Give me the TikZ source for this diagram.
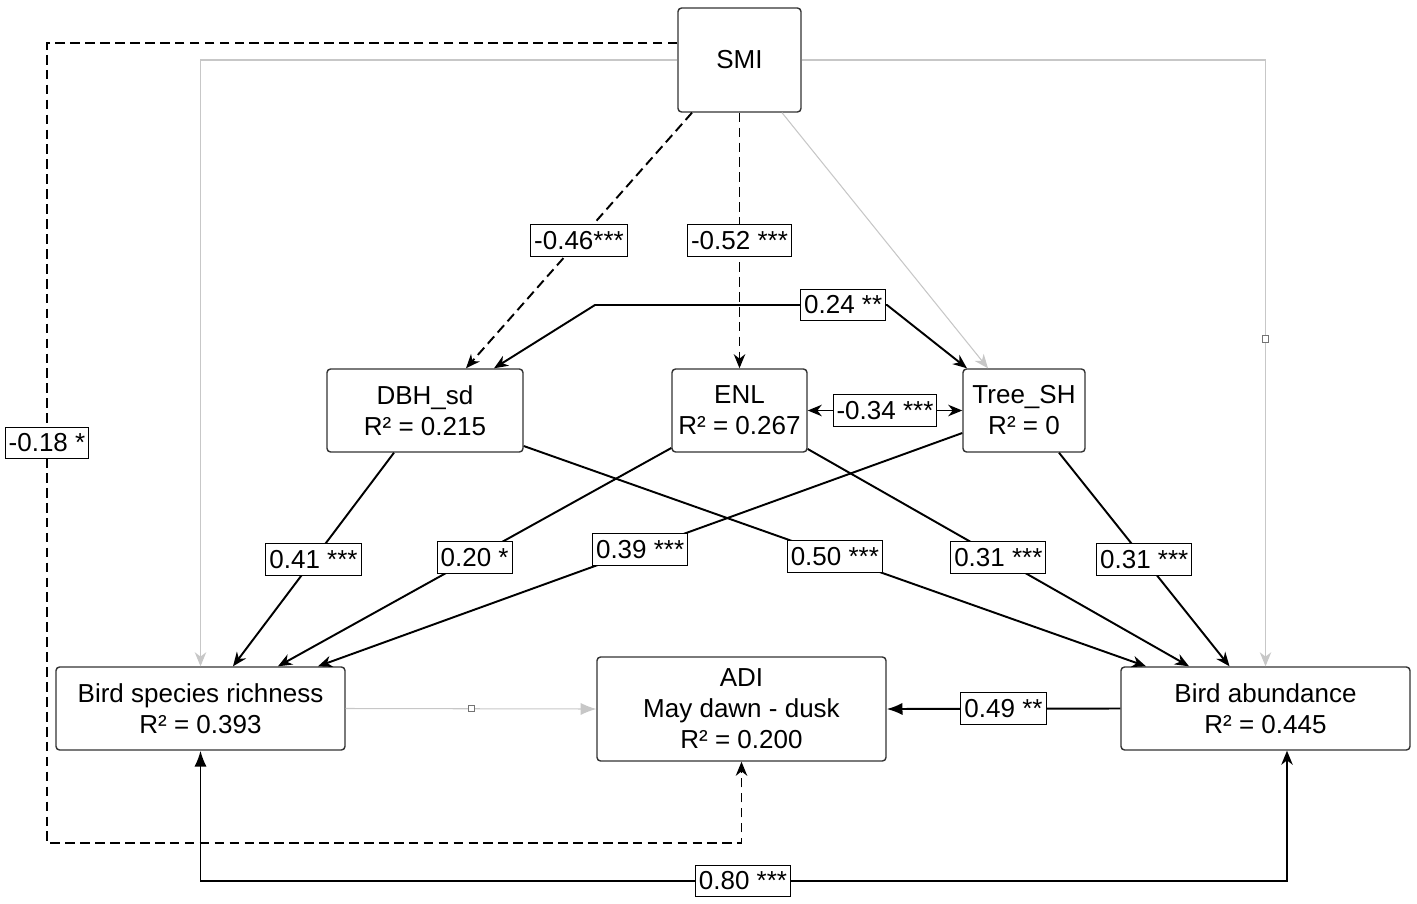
\documentclass[tikz,border=0pt]{standalone}
\usepackage{fontspec}
\setmainfont{Liberation Sans}
\usetikzlibrary{arrows.meta}

\begin{document}
\begin{tikzpicture}[x=0.02cm,y=-0.02cm,line width=1.1pt,
  >={Stealth[length=8pt,width=6.5pt,inset=2.5pt]},
  var/.style={draw=black!80,line width=0.8pt,rounded corners=2pt,align=center,
    font=\fontsize{14.8}{17.6}\selectfont,minimum height=1.66cm},
  coef/.style={draw,solid,fill=white,line width=0.6pt,inner xsep=2pt,inner ysep=3.8pt,
    font=\fontsize{14.8}{17.6}\selectfont},
  weak/.style={draw=black!22,line width=0.6pt},
  neg/.style={dash pattern=on 5.5pt off 3pt},
  handle/.style={draw=black!55,solid,fill=white,line width=0.4pt,minimum size=3.5pt,inner sep=0pt}]
  \useasboundingbox (0,0) rectangle (1417,903);

  \node[var,minimum width=2.46cm,minimum height=2.08cm] (SMI) at (739.5,60) {SMI};
  \node[var,minimum width=3.92cm] (DBH) at (425,410.5) {DBH\_sd\\R² = 0.215};
  \node[var,minimum width=2.7cm] (ENL) at (739.5,410.5) {ENL\\R² = 0.267};
  \node[var,minimum width=2.44cm] (TSH) at (1024,410.5) {Tree\_SH\\R² = 0};
  \node[var,minimum width=5.78cm] (BSR) at (200.5,708.5) {Bird species richness\\R² = 0.393};
  \node[var,minimum width=5.78cm,minimum height=2.08cm] (ADI) at (741.5,709) {ADI\\May dawn - dusk\\R² = 0.200};
  \node[var,minimum width=5.78cm] (ABU) at (1265.5,708.5) {Bird abundance\\R² = 0.445};

  \coordinate (dtl) at (47,43);
  \coordinate (dbl) at (47,843);
  \coordinate (c80) at (743,881);

  % SMI paths
  \draw[weak,->] (SMI.west) -| (BSR.north);
  \draw[weak,->] (SMI.east) -| node[handle,pos=.73] (h1) {} (ABU.north);
  \draw[weak,->] ([xshift=0.85cm]SMI.south) -- ([xshift=-0.72cm]TSH.north);
  \draw[neg,->] ([xshift=-0.95cm]SMI.south) -- node[coef] {-0.46***} ([xshift=0.82cm]DBH.north);
  \draw[neg,->] (SMI.south) -- node[coef] {-0.52 ***} (ENL.north);
  \draw[neg,->] (SMI.west |- dtl) -- (dtl) -- node[coef] {-0.18 *} (dbl) -| (ADI.south);

  % covariances
  \draw[<->] ([xshift=1.38cm]DBH.north) -- (595,305) -- node[coef,pos=.85] {0.24 **} (887,305)
    -- ([xshift=-1.14cm]TSH.north);
  \draw[<->] (ENL.east) -- node[coef] {-0.34 ***} (TSH.west);
  \draw[{Latex[length=9pt,width=7pt]}->] (BSR.south) |- (c80) node[coef] {0.80 ***}
    -| ([xshift=0.43cm]ABU.south);

  % forest structure to birds
  \path[->]
  ([xshift=-0.62cm]DBH.south) edge node[coef] {0.41 ***} ([xshift=0.65cm]BSR.north)
  ([yshift=-0.75cm]ENL.west) edge node[coef] {0.20 *} ([xshift=1.55cm]BSR.north)
  ([yshift=-0.45cm]TSH.west) edge node[coef] {0.39 ***} ([xshift=2.35cm]BSR.north)
  ([yshift=-0.71cm]DBH.east) edge node[coef] {0.50 ***} ([xshift=-2.39cm]ABU.north)
  ([yshift=-0.77cm]ENL.east) edge node[coef] {0.31 ***} ([xshift=-1.53cm]ABU.north)
  ([xshift=0.7cm]TSH.south) edge node[coef] {0.31 ***} ([xshift=-0.72cm]ABU.north)
  ;

  % birds to ADI
  \draw[weak,-{Latex[length=9pt,width=7pt]}] (BSR.east) -- node[handle] (h2) {} (ADI.west);
  \draw[-{Latex[length=9pt,width=7pt]}] (ABU.west) -- node[coef] {0.49 **} (ADI.east);
\end{tikzpicture}
\end{document}
